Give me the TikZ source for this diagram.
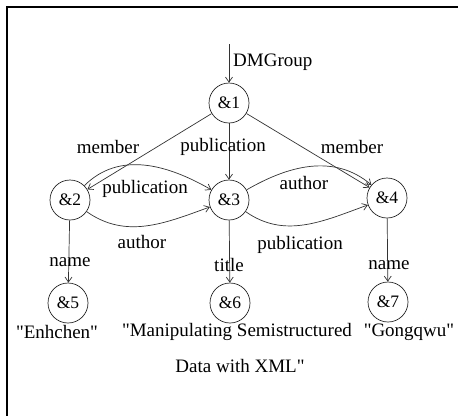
\documentclass[tikz,border=0pt]{standalone}
\usepackage{fontspec}
\setmainfont{Liberation Serif}
\usetikzlibrary{arrows.meta}
\newcommand{\qt}{\textquotedbl}
\begin{document}
\begin{tikzpicture}[x=1pt,y=-1pt,
  obj/.style={circle,draw=black!85,line width=0.7pt,minimum size=40pt,inner sep=0pt,font=\fontsize{17.5}{19}\selectfont},
  lbl/.style={inner sep=1pt,font=\fontsize{19}{21}\selectfont},
  val/.style={inner sep=1pt,font=\fontsize{19}{21}\selectfont},
  conn/.style={draw=black!80,line width=0.7pt,-{Straight Barb[length=5pt,width=7pt]}}]
\useasboundingbox (0,0) rectangle (458,416);
% frame
\draw[line width=2pt] (458,7) -- (7,7) -- (7,416);
% objects
\node[obj] (n1) at (229,103) {\&1};
\node[obj] (n2) at (70,200) {\&2};
\node[obj] (n3) at (229,200) {\&3};
\node[obj] (n4) at (387,198) {\&4};
\node[obj] (n5) at (68,303) {\&5};
\node[obj] (n6) at (230,303) {\&6};
\node[obj] (n7) at (388,302) {\&7};
\coordinate (root) at (229,44);
% edges
\draw[conn] (root) -- (n1);
\draw[conn] (n1) -- (n2);
\draw[conn] (n1) -- (n3);
\draw[conn] (n1) -- (n4);
\draw[conn] (n2) to[out=45,in=150] (n3);
\draw[conn] (n2) to[out=-35,in=-160] (n3);
\draw[conn] (n3) to[out=30,in=140] (n4);
\draw[conn] (n3) to[out=-35,in=-160] (n4);
\draw[conn] (n2) -- (n5);
\draw[conn] (n3) -- (n6);
\draw[conn] (n4) -- (n7);
% edge labels
\node[lbl,anchor=west] (lroot) at (232,62) {DMGroup};
\node[lbl] (l12) at (108,147) {member};
\node[lbl] (l13) at (223,147) {publication};
\node[lbl] (l14) at (352,147) {member};
\node[lbl] (l23a) at (145,189) {publication};
\node[lbl] (l23b) at (142,242) {author};
\node[lbl] (l34a) at (304,183) {author};
\node[lbl] (l34b) at (300,245) {publication};
\node[lbl] (l25) at (70,262) {name};
\node[lbl] (l36) at (229,265) {title};
\node[lbl] (l47) at (389,265) {name};
% atomic values
\node[val] (v5) at (57,332) {\qt Enhchen\qt};
\node[val] (v6) at (237,332) {\qt Manipulating Semistructured};
\node[val] (v6b) at (240,366) {Data with XML\qt};
\node[val] (v7) at (409,332) {\qt Gongqwu\qt};
\end{tikzpicture}
\end{document}
